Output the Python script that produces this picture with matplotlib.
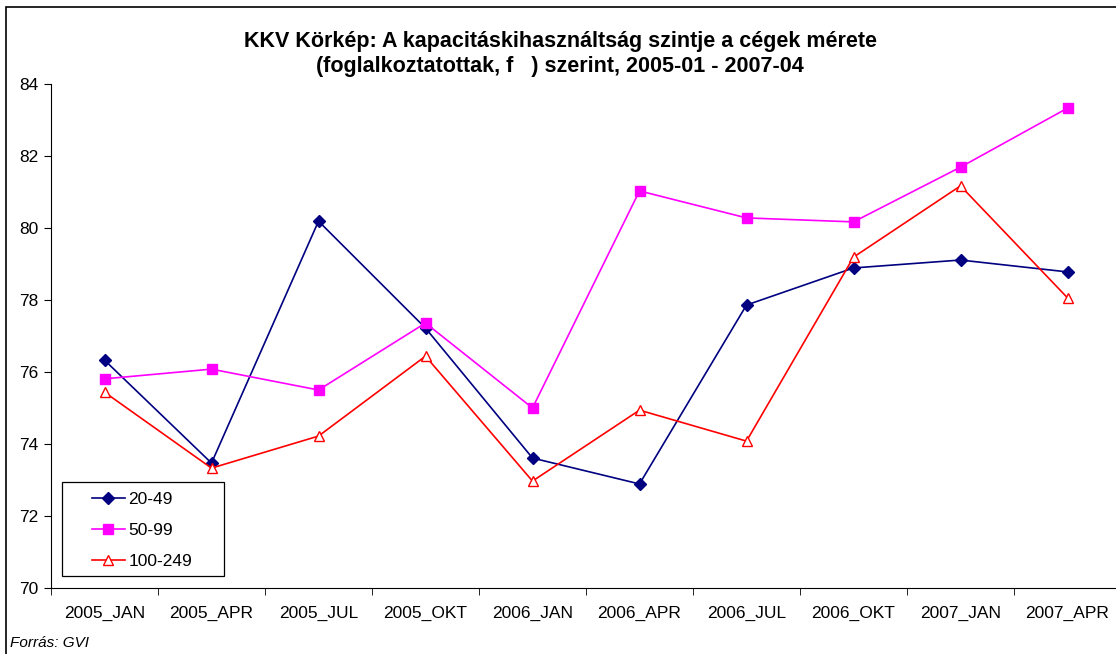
import matplotlib
matplotlib.use("Agg")
from matplotlib import pyplot as plt
from matplotlib.patches import Rectangle
import numpy as np

categories = ["2005_JAN", "2005_APR", "2005_JUL", "2005_OKT", "2006_JAN",
              "2006_APR", "2006_JUL", "2006_OKT", "2007_JAN", "2007_APR"]
s_20_49 = [76.33, 73.47, 80.19, 77.22, 73.61, 72.89, 77.86, 78.89, 79.11, 78.78]
s_50_99 = [75.81, 76.08, 75.50, 77.36, 75.00, 81.03, 80.28, 80.17, 81.69, 83.33]
s_100_249 = [75.44, 73.33, 74.22, 76.44, 72.97, 74.94, 74.08, 79.19, 81.17, 78.06]

W, H = 1116, 654
font = {'family': 'Liberation Sans', 'size': 12.5}
matplotlib.rc('font', **font)

fig = plt.figure(figsize=(W / 100, H / 100), dpi=100)
ax = fig.add_axes([51 / W, (H - 588) / H, (1121 - 51) / W, (588 - 84) / H])

x = np.arange(len(categories))
ax.plot(x, s_20_49, color="#000080", marker="D", markersize=6, lw=1.2, label="20-49")
ax.plot(x, s_50_99, color="#FF00FF", marker="s", markersize=6.5, lw=1.2, label="50-99")
ax.plot(x, s_100_249, color="#FF0000", marker="^", markersize=7.5, lw=1.2,
        markerfacecolor="white", markeredgecolor="#FF0000", label="100-249")

ax.set_xlim(-0.5, len(categories) - 0.5)
ax.set_ylim(70, 84)
ax.set_yticks(np.arange(70, 85, 2))
ax.set_xticks(x)
ax.set_xticklabels(categories)
ax.set_xticks(np.arange(-0.5, len(categories), 1), minor=True)
ax.tick_params(axis="x", which="major", length=0, pad=13)
ax.tick_params(axis="x", which="minor", length=5, direction="out")
ax.tick_params(axis="y", length=5, direction="out", pad=4)
for s in ["top", "right"]:
    ax.spines[s].set_visible(False)
ax.patch.set_alpha(0)

# legend box drawn by hand, legend itself frameless inside it
fig.add_artist(Rectangle((62 / W, 1 - 576 / H), (224 - 62) / W, (576 - 482) / H,
                         transform=fig.transFigure, fill=True, facecolor="white",
                         edgecolor="black", lw=0.9, zorder=3))
leg = fig.legend(loc="upper left", bbox_to_anchor=(92 / W, 1 - 492 / H),
                 frameon=False, fontsize=12.5, handlelength=1.9, labelspacing=0.92,
                 borderpad=0, handletextpad=0.2, borderaxespad=0)
leg.set_zorder(4)

fig.text(560 / W, 1 - 54 / H,
         "KKV Körkép: A kapacitáskihasználtság szintje a cégek mérete\n(foglalkoztatottak, f   ) szerint, 2005-01 - 2007-04",
         ha="center", va="center", fontsize=15.5, fontweight="bold", linespacing=1.3)
fig.text(10 / W, 1 - 643 / H, "Forrás: GVI", ha="left", va="center", fontsize=11, style="italic")

fig.add_artist(Rectangle((6 / W, -0.1), 1.2, 1 - 7 / H + 0.1, transform=fig.transFigure,
                         fill=False, edgecolor="black", lw=1.2))

fig.savefig("out.png", dpi=100)
